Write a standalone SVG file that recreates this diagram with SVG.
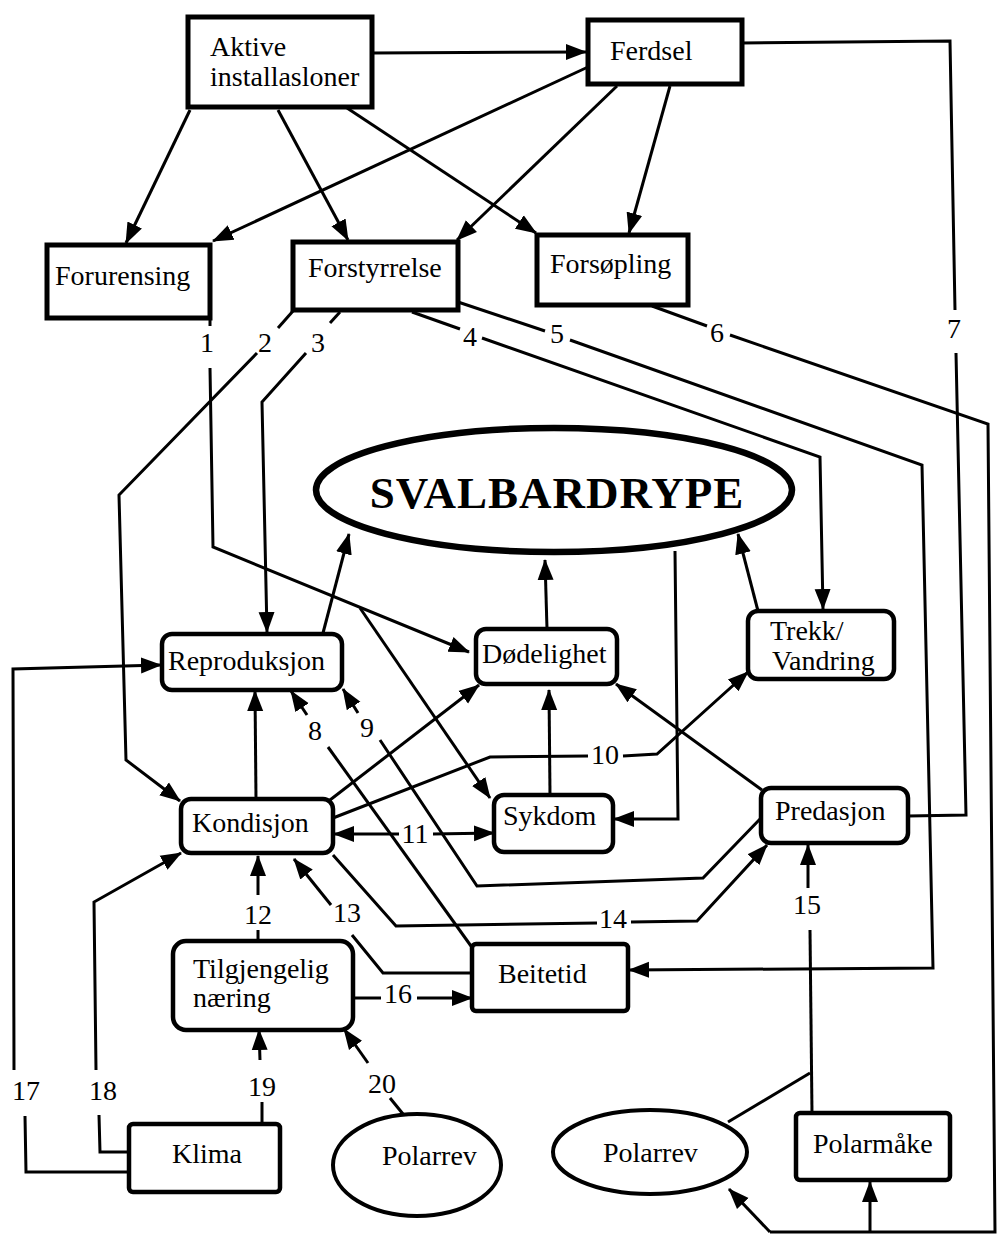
<svg xmlns="http://www.w3.org/2000/svg" width="997" height="1234" viewBox="0 0 997 1234">
<defs>
<marker id="ah" markerUnits="userSpaceOnUse" markerWidth="22" markerHeight="18" refX="20" refY="8" orient="auto-start-reverse" viewBox="0 0 22 16">
<path d="M0,0 L21,8 L0,16 z" fill="#000"/>
</marker>
<style>
.box{fill:#fff;stroke:#000;stroke-width:5}
.rbox{fill:#fff;stroke:#000;stroke-width:4.5}
.ell{fill:#fff;stroke:#000;stroke-width:4}
.t{font-family:"Liberation Serif","Times New Roman",serif;font-size:28px;fill:#000}
.n{font-family:"Liberation Serif","Times New Roman",serif;font-size:28px;fill:#000;text-anchor:middle}
.c{fill:none;stroke:#000;stroke-width:3;stroke-linejoin:miter}
.a{marker-end:url(#ah)}
</style>
</defs>
<rect width="997" height="1234" fill="#fff"/>

<g id="connectors">
<path class="c a" d="M373,53 L586,52"/>
<path class="c a" d="M190,110 L126,243"/>
<path class="c a" d="M278,110 L348,240"/>
<path class="c a" d="M347,108 L536,233"/>
<path class="c a" d="M588,67 L213,241"/>
<path class="c a" d="M617,86 L457,240"/>
<path class="c a" d="M670,86 L629,233"/>
<!-- 7 -->
<path class="c" d="M742,43 L950,41 L955,310"/>
<path class="c" d="M956,353 L966,815 L908,816"/>
<!-- 6 -->
<path class="c" d="M652,306 L707,326"/>
<path class="c" d="M730,335 L988,424 L995,1232 L770,1232"/>
<path class="c a" d="M770,1232 L729,1189"/>
<path class="c a" d="M870,1232 L870,1182"/>
<!-- 5 -->
<path class="c" d="M458,302 L545,331"/>
<path class="c a" d="M570,340 L922,465 L933,968 L629,970"/>
<!-- 4 -->
<path class="c" d="M412,312 L460,329"/>
<path class="c a" d="M482,338 L820,457 L823,609"/>
<!-- 3 -->
<path class="c" d="M340,312 L330,323"/>
<path class="c a" d="M306,353 L262,402 L267,632"/>
<!-- 2 -->
<path class="c" d="M293,311 L278,328"/>
<path class="c a" d="M257,353 L119,495 L126,760 L180,801"/>
<!-- 1 -->
<path class="c" d="M210,318 L210,326"/>
<path class="c a" d="M210,368 L213,547 L469,652"/>
<path class="c a" d="M360,608 L490,798"/>
<!-- to SVALBARDRYPE -->
<path class="c a" d="M323,633 L349,534"/>
<path class="c a" d="M547,629 L545,560"/>
<path class="c a" d="M758,611 L738,534"/>
<path class="c a" d="M675,551 L678,819 L614,819"/>
<!-- 10 -->
<path class="c" d="M333,818 L490,757 L588,756"/>
<path class="c a" d="M623,756 L657,754 L748,672"/>
<path class="c a" d="M762,790 L616,684"/>
<path class="c a" d="M330,800 L479,685"/>
<path class="c a" d="M550,795 L549,690"/>
<path class="c a" d="M256,799 L255,691"/>
<!-- 11 -->
<path class="c a" d="M399,834 L334,834"/>
<path class="c a" d="M433,834 L494,833"/>
<!-- 8 -->
<path class="c" d="M471,946 L328,747"/>
<path class="c a" d="M307,715 L291,691"/>
<!-- 9 -->
<path class="c" d="M761,818 L703,878 L477,886 L380,740"/>
<path class="c a" d="M358,713 L343,689"/>
<!-- 14 -->
<path class="c" d="M333,855 L396,926 L597,923"/>
<path class="c a" d="M631,922 L697,921 L767,845"/>
<!-- 13 -->
<path class="c" d="M472,973 L383,973 L352,935"/>
<path class="c a" d="M331,905 L294,859"/>
<!-- 12 -->
<path class="c" d="M258,941 L258,930"/>
<path class="c a" d="M258,895 L258,856"/>
<!-- 16 -->
<path class="c" d="M353,998 L381,998"/>
<path class="c a" d="M417,998 L472,998"/>
<!-- 17 -->
<path class="c" d="M129,1172 L26,1172 L25,1116"/>
<path class="c a" d="M14,1070 L13,669 L161,665"/>
<!-- 18 -->
<path class="c" d="M129,1152 L100,1152 L99,1115"/>
<path class="c a" d="M96,1070 L94,902 L181,853"/>
<!-- 19 -->
<path class="c" d="M262,1124 L262,1102"/>
<path class="c a" d="M260,1060 L259,1030"/>
<!-- 20 -->
<path class="c" d="M403,1114 L390,1098"/>
<path class="c a" d="M368,1063 L344,1029"/>
<!-- 15 -->
<path class="c" d="M812,1113 L810,930"/>
<path class="c a" d="M808,888 L808,845"/>
<path class="c" d="M728,1122 L810,1073"/>
</g>

<g id="labels">
<text class="n" x="207" y="352">1</text>
<text class="n" x="265" y="352">2</text>
<text class="n" x="318" y="352">3</text>
<text class="n" x="470" y="346">4</text>
<text class="n" x="557" y="343">5</text>
<text class="n" x="717" y="342">6</text>
<text class="n" x="954" y="338">7</text>
<text class="n" x="315" y="740">8</text>
<text class="n" x="367" y="737">9</text>
<text class="n" x="605" y="764">10</text>
<text class="n" x="415" y="843">11</text>
<text class="n" x="258" y="924">12</text>
<text class="n" x="347" y="922">13</text>
<text class="n" x="613" y="928">14</text>
<text class="n" x="807" y="914">15</text>
<text class="n" x="398" y="1003">16</text>
<text class="n" x="26" y="1100">17</text>
<text class="n" x="103" y="1100">18</text>
<text class="n" x="262" y="1096">19</text>
<text class="n" x="382" y="1093">20</text>
</g>

<g id="node-aktive"><rect class="box" x="188" y="17" width="184" height="90"/><text class="t" x="210" y="56">Aktive</text><text class="t" x="210" y="86">installasloner</text></g>
<g id="node-ferdsel"><rect class="box" x="588" y="20" width="154" height="64"/><text class="t" x="610" y="60">Ferdsel</text></g>
<g id="node-forurensing"><rect class="box" x="47" y="245" width="163" height="73"/><text class="t" x="55" y="285">Forurensing</text></g>
<g id="node-forstyrrelse"><rect class="box" x="293" y="242" width="165" height="68"/><text class="t" x="308" y="277">Forstyrrelse</text></g>
<g id="node-forsopling"><rect class="box" x="537" y="235" width="151" height="70"/><text class="t" x="550" y="273">Forsøpling</text></g>
<g id="node-svalbardrype"><ellipse cx="554" cy="490" rx="238" ry="62" fill="#fff" stroke="#000" stroke-width="6.5"/><text x="557" y="508" text-anchor="middle" font-family="Liberation Serif, Times New Roman, serif" font-size="45" font-weight="bold" letter-spacing="1">SVALBARDRYPE</text></g>
<g id="node-reproduksjon"><rect class="rbox" x="162" y="634" width="180" height="56" rx="10"/><text class="t" x="168" y="670">Reproduksjon</text></g>
<g id="node-dodelighet"><rect class="rbox" x="476" y="629" width="141" height="55" rx="10"/><text class="t" x="482" y="663">Dødelighet</text></g>
<g id="node-trekk"><rect class="rbox" x="748" y="611" width="146" height="68" rx="10"/><text class="t" x="770" y="640">Trekk/</text><text class="t" x="772" y="670">Vandring</text></g>
<g id="node-kondisjon"><rect class="rbox" x="181" y="799" width="152" height="54" rx="10"/><text class="t" x="192" y="832">Kondisjon</text></g>
<g id="node-sykdom"><rect class="rbox" x="494" y="795" width="119" height="57" rx="10"/><text class="t" x="503" y="825">Sykdom</text></g>
<g id="node-predasjon"><rect class="rbox" x="761" y="788" width="147" height="55" rx="10"/><text class="t" x="775" y="820">Predasjon</text></g>
<g id="node-tilgjengelig"><rect class="rbox" x="173" y="941" width="180" height="89" rx="13"/><text class="t" x="193" y="978">Tilgjengelig</text><text class="t" x="193" y="1007">næring</text></g>
<g id="node-beitetid"><rect class="rbox" x="472" y="944" width="156" height="67" rx="4"/><text class="t" x="498" y="983">Beitetid</text></g>
<g id="node-klima"><rect class="rbox" x="129" y="1124" width="151" height="68" rx="4"/><text class="t" x="172" y="1163">Klima</text></g>
<g id="node-polarrev1"><ellipse class="ell" cx="417" cy="1165" rx="84" ry="51"/><text class="t" x="382" y="1165">Polarrev</text></g>
<g id="node-polarrev2"><ellipse class="ell" cx="650" cy="1152" rx="97" ry="42"/><text class="t" x="603" y="1162">Polarrev</text></g>
<g id="node-polarmake"><rect class="rbox" x="796" y="1113" width="154" height="67" rx="4"/><text class="t" x="813" y="1153">Polarmåke</text></g>
</svg>
